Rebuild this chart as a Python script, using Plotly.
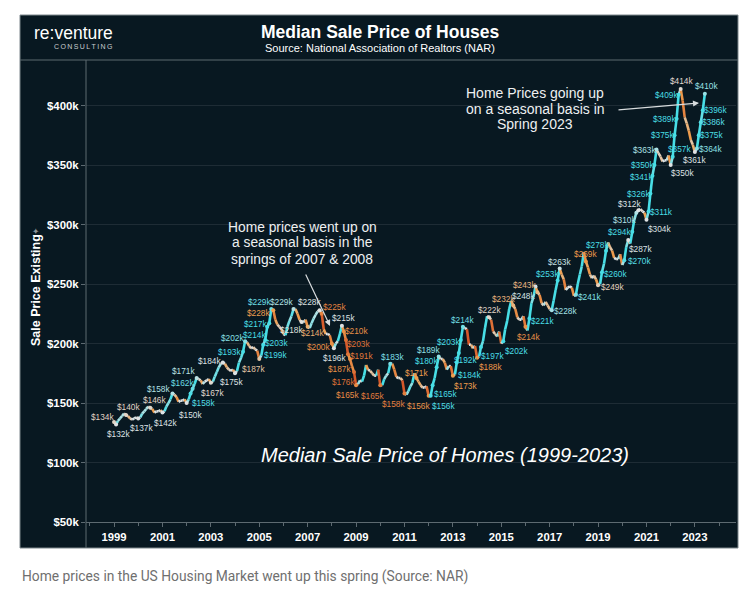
import plotly.graph_objects as go

# ---------------- data: monthly median sale price of existing homes, $k ----------------
p1999 = [134, 132, 135, 137, 139, 141, 140, 139, 137, 136, 137, 138]
p2000 = [137, 138, 141, 143, 145, 147, 146, 145, 142, 143, 143, 144]
p2001 = [142, 143, 147, 150, 153, 158, 157, 155, 151, 152, 152, 153]
p2002 = [150, 153, 158, 162, 166, 171, 170, 169, 166, 168, 169, 170]
p2003 = [167, 168, 172, 176, 180, 183, 184, 183, 180, 178, 177, 178]
p2004 = [175, 177, 184, 188, 193, 202, 201, 198, 196, 197, 195, 194]
p2005 = [187, 190, 199, 203, 214, 217, 229, 228, 220, 216, 214, 212]
p2006 = [208, 207, 214, 219, 223, 229, 229, 225, 220, 218, 218, 220]
p2007 = [214, 213, 217, 221, 224, 227, 228, 225, 212, 208, 208, 207]
p2008 = [200, 196, 200, 202, 208, 215, 210, 203, 191, 187, 181, 176]
p2009 = [165, 166, 169, 168, 173, 182, 178, 177, 175, 173, 173, 178]
p2010 = [165, 165, 170, 173, 175, 183, 183, 178, 172, 171, 171, 169]
p2011 = [158, 157, 160, 164, 167, 175, 171, 168, 165, 163, 163, 164]
p2012 = [156, 156, 165, 171, 180, 189, 187, 187, 184, 178, 181, 181]
p2013 = [173, 174, 184, 192, 203, 214, 213, 212, 199, 199, 196, 198]
p2014 = [188, 189, 197, 202, 213, 223, 222, 220, 210, 208, 206, 210]
p2015 = [200, 202, 212, 219, 229, 236, 232, 229, 222, 220, 220, 223]
p2016 = [214, 211, 221, 234, 239, 248, 243, 241, 234, 232, 235, 232]
p2017 = [229, 228, 236, 245, 253, 263, 258, 254, 245, 247, 248, 247]
p2018 = [240, 241, 250, 258, 265, 277, 269, 264, 258, 255, 257, 254]
p2019 = [249, 250, 260, 267, 278, 285, 281, 278, 272, 271, 271, 275]
p2020 = [266, 270, 281, 287, 284, 294, 304, 310, 312, 313, 311, 310]
p2021 = [304, 311, 326, 341, 350, 363, 360, 357, 353, 354, 354, 358]
p2022 = [350, 357, 375, 389, 409, 414, 404, 390, 385, 379, 371, 367]
p2023 = [361, 364, 375, 386, 396, 410]

yearly = [p1999, p2000, p2001, p2002, p2003, p2004, p2005, p2006, p2007, p2008,
          p2009, p2010, p2011, p2012, p2013, p2014, p2015, p2016, p2017, p2018,
          p2019, p2020, p2021, p2022, p2023]
first_year = 1999

# labelled months (which points carry a value label)
label_months = ["1999-01", "1999-02", "1999-07", "2000-01", "2000-07", "2001-01", "2001-06",
                "2002-01", "2002-03", "2002-04", "2002-06", "2003-01", "2003-07", "2004-01",
                "2004-05", "2004-06", "2005-01", "2005-03", "2005-04", "2005-05", "2005-06",
                "2005-07", "2005-08", "2006-06", "2006-10", "2007-01", "2007-07", "2007-08",
                "2008-01", "2008-02", "2008-06", "2008-07", "2008-08", "2008-09", "2008-10",
                "2008-12", "2009-01", "2010-01", "2010-06", "2011-01", "2011-07", "2012-01",
                "2012-02", "2012-03", "2012-05", "2012-06", "2013-01", "2013-03", "2013-04",
                "2013-05", "2013-06", "2014-01", "2014-03", "2014-07", "2015-02", "2015-07",
                "2016-01", "2016-03", "2016-06", "2016-07", "2017-02", "2017-05", "2017-06",
                "2018-02", "2018-07", "2019-01", "2019-03", "2019-05", "2020-02", "2020-04",
                "2020-06", "2020-08", "2020-09", "2021-01", "2021-02", "2021-03", "2021-04",
                "2021-05", "2021-06", "2022-01", "2022-02", "2022-03", "2022-04", "2022-05",
                "2022-06", "2023-01", "2023-02", "2023-03", "2023-04", "2023-05", "2023-06"]

year_ticks = [1999, 2001, 2003, 2005, 2007, 2009, 2011, 2013, 2015, 2017, 2019, 2021, 2023]
price_ticks = [50, 100, 150, 200, 250, 300, 350, 400]

# ---------------- styling (label offsets in px: dx right, dy down) ----------------
label_offsets = [(-12, -5), (2, 10), (2, -8), (3, 10), (4, -8), (3, 10), (-14, -5),
                 (4, 12), (13, 9), (-10, -6), (-13, -7), (2, 10), (-13, -2), (-4, 9),
                 (-14, 0), (-13, -3), (-6, 10), (12, 10), (11, 3), (-13, 8), (-14, 1),
                 (-12, -7), (-15, 3), (-12, -7), (-10, 8), (5, 6), (-10, -8), (13, -7),
                 (-13, 3), (1, 10), (2, -8), (13, -1), (13, 4), (14, 2), (-10, 10),
                 (-11, 10), (-9, 10), (-8, 11), (2, -7), (-11, 10), (0, -5), (-10, 10),
                 (13, 10), (13, 9), (-10, -6), (-10, -7), (13, 10), (13, 12), (7, 7),
                 (-12, 2), (0, -7), (13, 9), (12, 9), (0, -7), (13, 10), (-10, -6),
                 (3, 10), (13, 2), (-12, 10), (-13, -7), (14, 1), (-10, -6), (0, -7),
                 (14, 2), (0, -7), (14, 2), (14, 2), (-9, -6), (15, 1), (12, 9),
                 (-13, 0), (-12, 7), (-9, -6), (13, 9), (13, 1), (-12, 0), (-11, 1),
                 (-12, 0), (-12, 0), (12, 8), (7, -8), (-12, 0), (-12, 0), (-12, 0),
                 (1, -8), (0, 8), (14, 1), (13, 0), (13, 0), (13, 0), (2, -8)]

BG = "#081821"
FONT = "Liberation Sans, Arial, sans-serif"

# build month sequence
values = []
months = []
for k, yr in enumerate(yearly):
    for m, v in enumerate(yr):
        values.append(v)
        months.append(f"{first_year + k}-{m + 1:02d}-01")

STOPS = [(-0.06, (214, 88, 42)), (-0.02, (238, 158, 78)), (-0.004, (222, 226, 228)),
         (0.006, (222, 226, 228)), (0.03, (72, 222, 230))]


def change_color(p):
    if p <= STOPS[0][0]:
        c = STOPS[0][1]
    elif p >= STOPS[-1][0]:
        c = STOPS[-1][1]
    else:
        for (a, ca), (b, cb) in zip(STOPS[:-1], STOPS[1:]):
            if a <= p <= b:
                t = (p - a) / (b - a)
                c = tuple(int(round(ca[j] + (cb[j] - ca[j]) * t)) for j in range(3))
                break
    return "rgb(%d,%d,%d)" % c


fig = go.Figure()

# colored line segments (cyan = rising, orange = falling)
for i in range(1, len(values)):
    p = (values[i] - values[i - 1]) / values[i - 1]
    fig.add_trace(go.Scatter(x=[months[i - 1], months[i]], y=[values[i - 1], values[i]],
                             mode="lines", line=dict(color=change_color(p), width=2.6),
                             hoverinfo="skip", showlegend=False))

# labelled points + value labels
idx = {m[:7]: i for i, m in enumerate(months)}
lab_x, lab_y, lab_c = [], [], []
annotations = []
for mkey, (dx, dy) in zip(label_months, label_offsets):
    i = idx[mkey]
    prev_v = values[i - 1] if i > 0 else values[i]
    next_v = values[i + 1] if i + 1 < len(values) else values[i]
    p = (next_v - prev_v) / 2 / values[i]
    col = change_color(p)
    lab_x.append(months[i]); lab_y.append(values[i]); lab_c.append(col)
    annotations.append(dict(x=months[i], y=values[i], xref="x", yref="y",
                            text=f"${values[i]}k", showarrow=False,
                            xshift=dx, yshift=-dy, xanchor="center", yanchor="middle",
                            font=dict(family=FONT, size=8.3, color=col)))

fig.add_trace(go.Scatter(x=lab_x, y=lab_y, mode="markers",
                         marker=dict(size=4, color=lab_c), hoverinfo="skip", showlegend=False))

# ---------------- layout helpers (coordinates in page pixels; page body has an 8px margin) ----------------
OFF = 8
PAGE_W, PAGE_H = 756, 591
L, R, T, B = 86, 736, 62, 522


def px(x):
    return (x - L) / (R - L)


def py(y):
    return (B - y) / (B - T)


def note(x, y, text, size, color="#ffffff", family=FONT, **kw):
    d = dict(x=px(x), y=py(y), xref="paper", yref="paper", text=text, showarrow=False,
             font=dict(family=family, size=size, color=color), xanchor="center", yanchor="middle")
    d.update(kw)
    annotations.append(d)


note(73, 33, "re:venture", 17.5, "#ffffff")
note(83, 46.5, "\u2009".join("CONSULTING"), 7, "#c9cdd0")
note(380, 32, "<b>Median Sale Price of Houses</b>", 17.5)
note(380, 48, "Source: National Association of Realtors (NAR)", 11)
note(36, 290, "<b>Sale Price Existing</b>", 12.5, textangle=-90)
note(36, 231, "\u2726", 9, "#8a9296", textangle=-90)
for k, line in enumerate(["Home prices went up on", "a seasonal basis in the", "springs of 2007 &amp; 2008"]):
    note(302, 227 + 16 * k, line, 13.8, "#eef0f1")
for k, line in enumerate(["Home Prices going up", "on a seasonal basis in", "Spring 2023"]):
    note(535, 93 + 15.5 * k, line, 14, "#eef0f1")
note(445, 455, "<i>Median Sale Price of Homes (1999-2023)</i>", 20, "#ffffff")
note(20, 576, "Home prices in the US Housing Market went up this spring (Source: NAR)", 13.8,
     "#6f6f6f", family="Roboto, Arial, sans-serif", xanchor="left")

# arrows
annotations.append(dict(x=px(330), y=py(326), xref="paper", yref="paper", ax=-25, ay=-53,
                        showarrow=True, arrowhead=2, arrowsize=1, arrowwidth=1.2,
                        arrowcolor="#d8dcde", text=""))
annotations.append(dict(x=px(699), y=py(103), xref="paper", yref="paper", ax=-82, ay=7,
                        showarrow=True, arrowhead=2, arrowsize=1, arrowwidth=1.2,
                        arrowcolor="#d8dcde", text=""))

shapes = [
    dict(type="rect", xref="paper", yref="paper", x0=px(20), x1=px(738), y0=py(548), y1=py(15),
         fillcolor=BG, line=dict(color="#7d878c", width=1), layer="below"),
    dict(type="line", xref="paper", yref="paper", x0=px(20), x1=px(738), y0=py(60), y1=py(60),
         line=dict(color="#5d6a71", width=1)),
    dict(type="line", xref="paper", yref="paper", x0=px(86), x1=px(86), y0=py(60), y1=py(548),
         line=dict(color="#5d6a71", width=1)),
]

fig.update_layout(
    width=PAGE_W - OFF, height=PAGE_H - OFF,
    margin=dict(l=L - OFF, r=PAGE_W - R, t=T - OFF, b=PAGE_H - B),
    paper_bgcolor="#ffffff", plot_bgcolor=BG,
    showlegend=False,
    annotations=annotations, shapes=shapes,
    xaxis=dict(type="date", range=["1997-11-04", "2024-09-13"],
               tickvals=[f"{y}-01-01" for y in year_ticks],
               ticktext=[f"<b>{y}</b>" for y in year_ticks],
               tickfont=dict(family=FONT, size=11.3, color="#ffffff"),
               showgrid=False, zeroline=False, showline=True, linecolor="#5d6a71",
               ticks="outside", ticklen=4, tickcolor="#5d6a71",
               minor=dict(dtick="M12", tick0="1998-01-01", ticks="outside", ticklen=3,
                          tickcolor="#5d6a71", showgrid=False)),
    yaxis=dict(range=[50, 436.6], tickvals=price_ticks,
               ticktext=[f"<b>${v}k</b>" for v in price_ticks],
               tickfont=dict(family=FONT, size=11.4, color="#ffffff"),
               showgrid=True, gridcolor="rgba(255,255,255,0.09)", gridwidth=1,
               zeroline=False, showline=False,
               ticks="outside", ticklen=4, tickcolor="#5d6a71"),
)

fig.write_html("out.html")
